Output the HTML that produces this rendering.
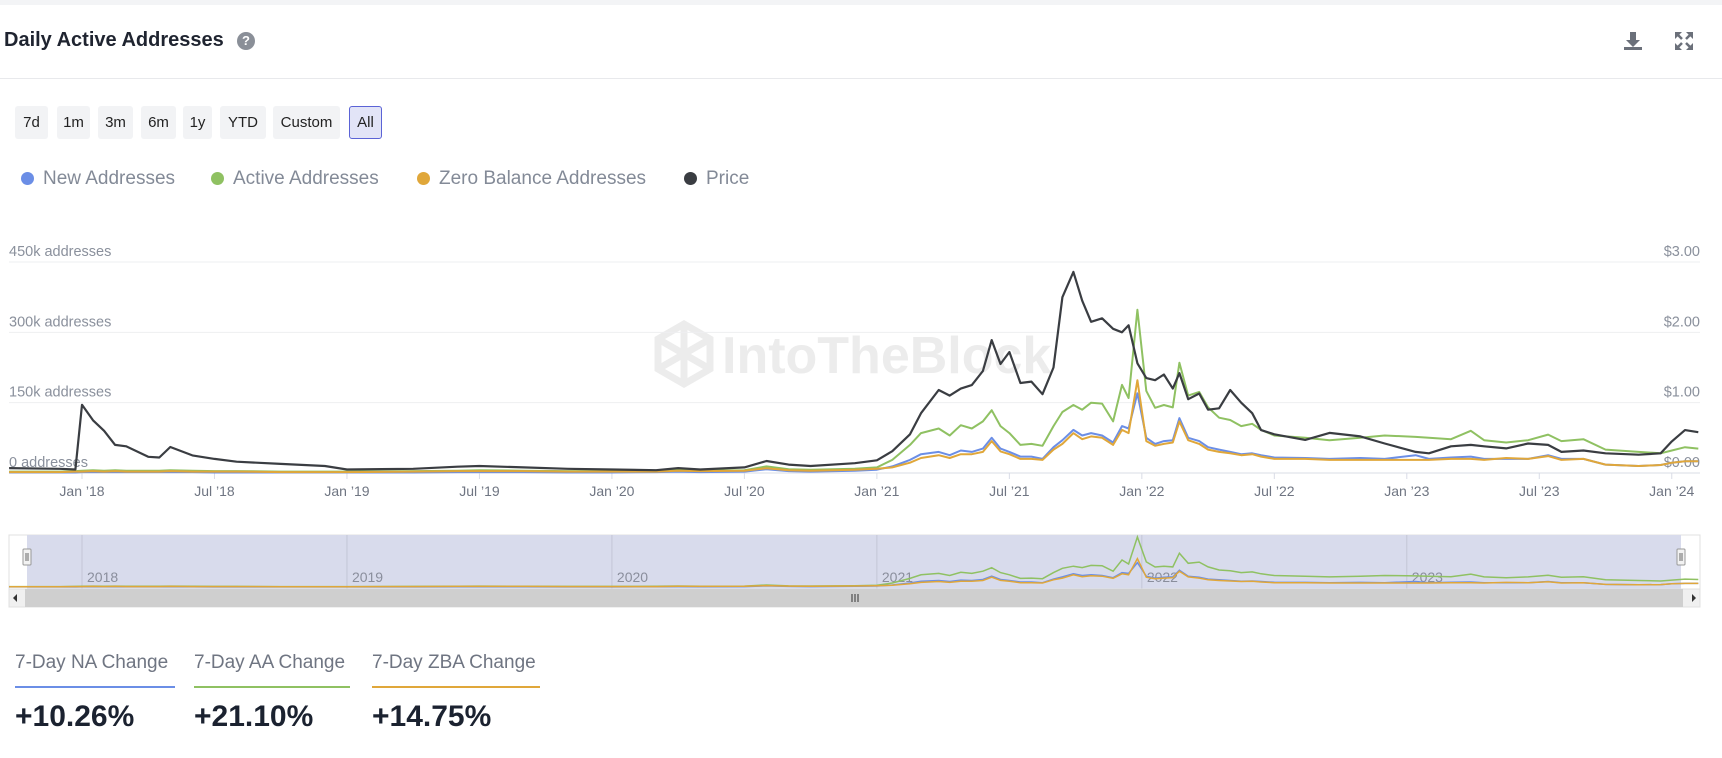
<!DOCTYPE html>
<html><head><meta charset="utf-8">
<style>
body{margin:0;width:1722px;height:758px;overflow:hidden;background:#fff;font-family:"Liberation Sans",sans-serif;position:relative}
.abs{position:absolute}
.btn{position:absolute;top:106px;height:33px;line-height:33px;background:#f2f3f5;border-radius:3px;font-size:15px;color:#222;text-align:center}
.leg{position:absolute;top:168px;font-size:19px;color:#838a97;line-height:22px}
.leg i{display:inline-block;width:13px;height:13px;border-radius:50%;margin-right:9px;vertical-align:-1px}
.stat{position:absolute;top:652px;font-size:19px;color:#6f7582}
.val{position:absolute;top:700px;font-size:30px;color:#1b2230;font-weight:bold}
</style></head><body>
<div class="abs" style="left:0;top:0;width:1722px;height:5px;background:#f3f4f6"></div>
<div class="abs" style="left:4px;top:29px;font-size:20px;font-weight:bold;color:#1f2430">Daily Active Addresses</div>
<div class="abs" style="left:237px;top:32px;width:18px;height:18px;border-radius:50%;background:#8a8f98;color:#fff;font-size:13px;font-weight:bold;text-align:center;line-height:18px">?</div>
<svg class="abs" style="left:1622px;top:30px" width="22" height="22"><path d="M8 2h6v8h4l-7 7-7-7h4z M2 17v3h18v-3" fill="#6b707a"/></svg>
<svg class="abs" style="left:1674px;top:31px" width="20" height="20"><g stroke="#6b707a" stroke-width="2.5" fill="none"><path d="M2 2l6 6M18 2l-6 6M2 18l6-6M18 18l-6-6"/></g><g fill="#6b707a"><path d="M1 1h7L1 8zM19 1h-7l7 7zM1 19h7l-7-7zM19 19h-7l7-7z"/></g></svg>
<div class="abs" style="left:0;top:78px;width:1722px;height:1px;background:#e8e9ec"></div>

<div class="btn" style="left:15px;width:33px">7d</div>
<div class="btn" style="left:57px;width:33px">1m</div>
<div class="btn" style="left:98px;width:35px">3m</div>
<div class="btn" style="left:141px;width:35px">6m</div>
<div class="btn" style="left:183px;width:29px">1y</div>
<div class="btn" style="left:220px;width:46px">YTD</div>
<div class="btn" style="left:273px;width:67px">Custom</div>
<div class="btn" style="left:349px;width:31px;height:31px;line-height:31px;background:#e2e4f7;border:1px solid #5b63d6">All</div>

<div class="leg" style="left:21px"><i style="background:#6b8ee6"></i>New Addresses</div>
<div class="leg" style="left:211px"><i style="background:#8fc162"></i>Active Addresses</div>
<div class="leg" style="left:417px"><i style="background:#e0a73a"></i>Zero Balance Addresses</div>
<div class="leg" style="left:684px"><i style="background:#3a3d42"></i>Price</div>

<svg id="chart" class="abs" style="left:0;top:0" width="1722" height="620"></svg>

<div class="stat" style="left:15px">7-Day NA Change</div>
<div class="abs" style="left:15px;top:686px;width:160px;height:2px;background:#6b8ee6"></div>
<div class="val" style="left:15px">+10.26%</div>
<div class="stat" style="left:194px">7-Day AA Change</div>
<div class="abs" style="left:194px;top:686px;width:156px;height:2px;background:#8fc162"></div>
<div class="val" style="left:194px">+21.10%</div>
<div class="stat" style="left:372px">7-Day ZBA Change</div>
<div class="abs" style="left:372px;top:686px;width:168px;height:2px;background:#e0a73a"></div>
<div class="val" style="left:372px">+14.75%</div>

<script>
// months since Jan 2018
const months=[-3.3,-1,-0.3,0,0.5,1,1.5,2,3,3.5,4,5,6,7,9,11,12,15,17,18,20,22,24,26,27,28,30,31,32,33,35,36,36.7,37.5,38,38.8,39.3,39.8,40.3,40.8,41.2,41.6,42,42.5,43,43.5,44,44.4,44.9,45.3,45.7,46.2,46.7,47.1,47.4,47.8,48.2,48.6,49,49.4,49.7,50.1,50.6,51,51.5,52,52.5,53,53.4,54,55.4,56.5,57.9,59,60.4,61,62,62.9,63.5,64.5,65.5,66.4,67,68,69,70.5,71.5,72,72.6,73.2];
const price=[0.07,0.06,0.05,0.97,0.75,0.6,0.4,0.38,0.23,0.22,0.37,0.25,0.2,0.16,0.13,0.1,0.05,0.06,0.09,0.1,0.08,0.06,0.05,0.04,0.07,0.05,0.08,0.17,0.12,0.1,0.14,0.18,0.31,0.55,0.85,1.18,1.1,1.2,1.25,1.45,1.89,1.55,1.72,1.28,1.3,1.12,1.5,2.5,2.86,2.45,2.15,2.2,2.05,2.0,2.1,1.56,1.35,1.32,1.4,1.2,1.42,1.05,1.13,0.9,0.92,1.18,1.0,0.85,0.61,0.55,0.47,0.57,0.52,0.42,0.3,0.28,0.38,0.4,0.38,0.35,0.42,0.4,0.3,0.32,0.28,0.26,0.28,0.45,0.61,0.58];
const activeK=[3,3,4,5,6,5,6,5,5,5,6,5,4,4,3,3,3,4,5,6,5,4,4,5,7,5,6,14,8,7,9,12,28,60,85,95,80,102,95,110,134,100,85,60,62,58,100,130,145,135,150,148,110,188,160,348,175,139,145,140,235,165,173,140,118,113,100,105,92,80,75,70,75,80,77,75,72,90,70,65,70,82,68,72,50,45,42,48,55,52];
const newK=[1,1,1,2,2,2,2,2,2,2,2,2,1,1,1,1,1,1,2,2,2,1,1,2,3,2,3,8,4,3,5,7,14,28,40,45,38,48,45,52,75,52,45,35,35,30,55,70,92,80,85,80,65,100,95,170,75,62,68,70,117,75,68,55,50,45,40,42,38,33,32,30,32,30,38,30,33,35,30,30,30,38,30,30,18,15,17,22,25,25];
const zeroK=[2,2,3,3,4,3,4,3,3,3,4,3,3,3,2,2,2,3,4,4,4,3,3,3,5,4,5,10,6,5,7,9,12,22,32,38,32,40,40,45,68,46,40,30,30,28,50,62,85,72,78,75,60,92,85,198,68,58,62,65,110,70,62,50,45,42,38,40,35,30,30,28,28,28,28,28,30,30,28,32,30,36,28,30,18,15,17,22,25,25];
const leftTicks=["0 addresses","150k addresses","300k addresses","450k addresses"];
const rightTicks=["$0.00","$1.00","$2.00","$3.00"];
const xTickLabels=["Jan ’18","Jul ’18","Jan ’19","Jul ’19","Jan ’20","Jul ’20","Jan ’21","Jul ’21","Jan ’22","Jul ’22","Jan ’23","Jul ’23","Jan ’24"];
const navYears=["2018","2019","2020","2021","2022","2023"];

const NS="http://www.w3.org/2000/svg";
const svg=document.getElementById('chart');
function el(t,a,p){const e=document.createElementNS(NS,t);for(const k in a)e.setAttribute(k,a[k]);(p||svg).appendChild(e);return e;}
const X=m=>82+m*22.08;
const Y0=473,STEP=70.33;
const YK=k=>Y0-k/150*STEP;
const YP=p=>Y0-p*STEP;

// watermark
const wm=el('g',{opacity:1});


el('path',{d:'M684 324 l26 15 v30 l-26 15 l-26 -15 v-30 z M684 324 v60 M658 339 l52 30 M710 339 l-52 30',stroke:'#ececec','stroke-width':7,fill:'none'},wm);
const wt=el('text',{x:722,y:373,'font-size':52,'font-weight':'bold',fill:'#ececec'},wm);wt.textContent='IntoTheBlock';

// gridlines & labels
leftTicks.forEach((t,i)=>{
  const y=Y0-i*STEP;
  const g=el('line',{x1:9,x2:1700,y1:y,y2:y,stroke:i?'#eeeff1':'#d9dce6','stroke-width':1});
  
  
  const l=el('text',{x:9,y:y-6,'font-size':14.5,fill:'#8a909c'});l.textContent=t;
  
  
  const r=el('text',{x:1700,y:y-6,'font-size':14.5,fill:'#8a909c','text-anchor':'end'});r.textContent=rightTicks[i];
  
  
});
xTickLabels.forEach((t,i)=>{
  const x=X(i*6);
  el('line',{x1:x,x2:x,y1:Y0,y2:Y0+6,stroke:'#d9dce6'});
  const tx=el('text',{x:x,y:496,'font-size':14,fill:'#6f7582','text-anchor':'middle'});tx.textContent=t;
  
  
});
function line(vals,fy,color,name,w){
  const d=vals.map((v,i)=>(i?'L':'M')+X(months[i]).toFixed(1)+' '+fy(v).toFixed(1)).join(' ');
  const p=el('path',{d:d,stroke:color,'stroke-width':w||2,fill:'none','stroke-linejoin':'round'});
  
  
}
line(activeK,YK,'#8fc162','active-addresses-line');
line(newK,YK,'#6b8ee6','new-addresses-line');
line(zeroK,YK,'#e0a73a','zero-balance-line');
line(price,YP,'#3a3d42','price-line',2.2);

// navigator
const nav=el('rect',{x:9,y:535,width:1691,height:54,fill:'#fff',stroke:'#e0e0e0'});


const sel=el('rect',{x:27,y:535,width:1654,height:54,fill:'#d8dbec'});


navYears.forEach((t,i)=>{
  const x=X(i*12);
  el('line',{x1:x,x2:x,y1:535,y2:589,stroke:'#c3c6d6'});
  const tx=el('text',{x:x+5,y:582,'font-size':14,fill:'#8a8e9c'});tx.textContent=t;
  
  
});
const NY=k=>587-k/348*50;
function nline(vals,color,name){
  const d=vals.map((v,i)=>(i?'L':'M')+X(months[i]).toFixed(1)+' '+NY(v).toFixed(1)).join(' ');
  const p=el('path',{d:d,stroke:color,'stroke-width':1.5,fill:'none'});
  
  
}
nline(activeK,'#8fc162','navigator-active-line');
nline(newK,'#6b8ee6','navigator-new-line');
nline(zeroK,'#e0a73a','navigator-zero-line');
[27,1681].forEach(x=>{
  const h=el('rect',{x:x-4,y:549,width:8,height:16,fill:'#f2f2f2',stroke:'#999',rx:1});
  
  
  el('path',{d:`M${x-1} 553v8M${x+1} 553v8`,stroke:'#666'});
});
const sb=el('rect',{x:9,y:589,width:1691,height:18,fill:'#f0f0f0',stroke:'#e0e0e0'});


const th=el('rect',{x:25,y:589,width:1658,height:18,fill:'#cfcfcf'});


el('path',{d:'M852 594v8M855 594v8M858 594v8',stroke:'#333'});
el('path',{d:'M17 594l-4 4 4 4z',fill:'#333'});
el('path',{d:'M1692 594l4 4-4 4z',fill:'#333'});
</script>
</body></html>
